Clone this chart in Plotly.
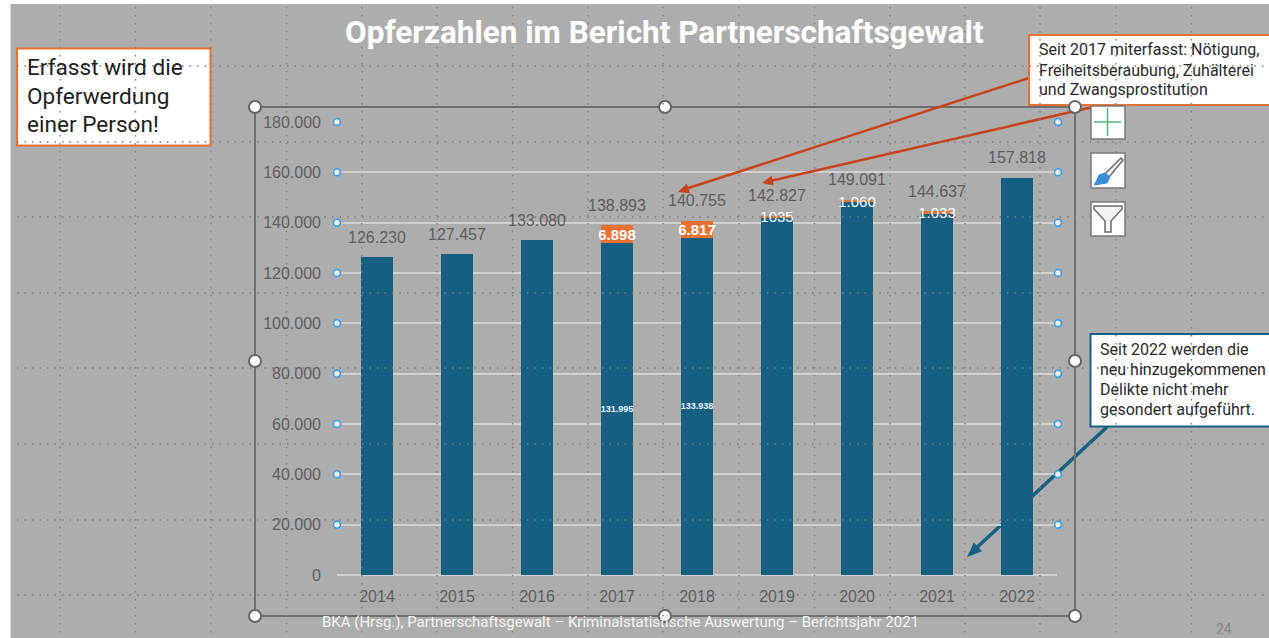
import plotly.graph_objects as go

W, H = 1269, 638

years = ["2014", "2015", "2016", "2017", "2018", "2019", "2020", "2021", "2022"]
base_values = [126230, 127457, 133080, 131995, 133938, 141792, 148031, 143604, 157818]
added_values = [0, 0, 0, 6898, 6817, 1035, 1060, 1033, 0]
total_values = [126230, 127457, 133080, 138893, 140755, 142827, 149091, 144637, 157818]
total_labels = ["126.230", "127.457", "133.080", "138.893", "140.755", "142.827", "149.091", "144.637", "157.818"]
base_labels = ["", "", "", "<b>131.995</b>", "<b>133.938</b>", "", "", "", ""]
added_labels = ["", "", "", "<b>6.898</b>", "<b>6.817</b>", "1035", "1.060", "1.033", ""]
y_ticks = [0, 20000, 40000, 60000, 80000, 100000, 120000, 140000, 160000, 180000]

BLUE = "#156082"
ORANGE = "#E97132"
RED = "#C8431A"
GREY_BG = "#ADADAD"
TXT = "#5E5E5E"
DOT = "#7C7C7C"
SANS = "Liberation Sans"
BODY = "Roboto"

PLOT_L, PLOT_R, PLOT_T, PLOT_B = 337, 1057, 122, 575


def px(x):
    return x / W


def py(y):
    return 1 - y / H


shapes_below = []
shapes_above = []


def rect(x0, y0, x1, y1, fill, line=None, lw=0, layer="above"):
    return dict(type="rect", xref="paper", yref="paper", x0=px(x0), x1=px(x1), y0=py(y0), y1=py(y1),
                fillcolor=fill, line=dict(color=line or fill, width=lw), layer=layer)


def seg(x0, y0, x1, y1, color, lw, dash=None, layer="above"):
    ln = dict(color=color, width=lw)
    if dash:
        ln["dash"] = dash
    return dict(type="line", xref="paper", yref="paper", x0=px(x0), x1=px(x1), y0=py(y0), y1=py(y1),
                line=ln, layer=layer)


def circle(cx, cy, r, fill, line, lw):
    return dict(type="circle", xref="paper", yref="paper", x0=px(cx - r), x1=px(cx + r),
                y0=py(cy + r), y1=py(cy - r), fillcolor=fill, line=dict(color=line, width=lw), layer="above")


def poly(points, fill, line=None, lw=0, layer="above"):
    d = "M" + " L".join(f"{px(a):.5f},{py(b):.5f}" for a, b in points) + " Z"
    return dict(type="path", xref="paper", yref="paper", path=d, fillcolor=fill,
                line=dict(color=line or fill, width=lw), layer=layer)


def arrow_head(x0, y0, x1, y1, color, size=12, half=5, layer="above"):
    dx, dy = x1 - x0, y1 - y0
    n = (dx * dx + dy * dy) ** 0.5
    ux, uy = dx / n, dy / n
    bx, by = x1 - ux * size, y1 - uy * size
    return poly([(x1, y1), (bx - uy * half, by + ux * half), (bx + uy * half, by - ux * half)], color, layer=layer)


# slide background with white sliver at the top and left
shapes_below.append(rect(10.5, 4, W + 2, H + 2, GREY_BG, layer="below"))
# teal leader runs behind the bars
shapes_below.append(seg(1107, 427, 972, 552, BLUE, 3.5, layer="below"))

# chart selection frame
shapes_above.append(dict(type="rect", xref="paper", yref="paper", x0=px(255), x1=px(1075), y0=py(616), y1=py(107),
                         line=dict(color="#6E6E6E", width=2), layer="above"))

# red leaders
shapes_above.append(seg(1029, 78, 684, 189.5, RED, 2.5))
shapes_above.append(arrow_head(1029, 78, 678, 192, RED, 11, 5))
shapes_above.append(seg(1106, 104, 768, 181.5, RED, 2.5))
shapes_above.append(arrow_head(1106, 104, 762, 183, RED, 11, 5))
# teal arrow head in the gap between the last bars
shapes_above.append(arrow_head(1107, 427, 967, 557, BLUE, 15, 6))

# callouts
shapes_above.append(rect(17, 48.5, 210.5, 145.5, "white", ORANGE, 2))
shapes_above.append(rect(1029, 35, W + 5, 105, "white", ORANGE, 2))
shapes_above.append(rect(1090.5, 334, W + 5, 426.5, "white", BLUE, 2))

# selection handles
for cx, cy in [(255, 107), (665, 107), (1075, 107), (255, 361), (1075, 361), (255, 616), (665, 616), (1075, 616)]:
    shapes_above.append(circle(cx, cy, 6, "white", "#666666", 2))
for v in y_ticks[1:]:
    yy = PLOT_B - v * (PLOT_B - PLOT_T) / 180000
    for cx in (PLOT_L, PLOT_R + 1):
        shapes_above.append(circle(cx, yy, 3.5, "#E4F3FF", "#3F9AE6", 1.5))

# PowerPoint drawing grid
for gx in [60, 135.5, 211, 286.5, 361.7, 437, 512.6, 588, 663, 739, 814.5, 890, 965, 1040, 1116, 1191.5]:
    shapes_above.append(seg(gx, 7, gx, H, DOT, 1.4, dash="1.5px,6.5px"))
for gy in [66, 142, 217, 293, 368, 444, 520, 595]:
    shapes_above.append(seg(17, gy, W, gy, DOT, 1.4, dash="1.5px,6px"))

# chart buttons
for y0, y1 in [(106, 139), (153, 188), (202, 236)]:
    shapes_above.append(rect(1091, y0, 1125, y1, "white", "#7A7A7A", 1.5))
shapes_above.append(seg(1094, 122, 1121, 122, "#59B377", 1.5))
shapes_above.append(seg(1107.5, 108, 1107.5, 136, "#59B377", 1.5))
shapes_above.append(poly([(1121, 158), (1123, 160), (1109, 177), (1105, 174)], "#F4F4F4", "#6A6A6A", 1.5))
shapes_above.append(poly([(1105, 173), (1110, 177), (1107, 183), (1094, 185), (1097, 180), (1099, 175)], "#3F8FD6", "#3F8FD6", 1))
shapes_above.append(poly([(1094, 206), (1122, 206), (1122, 209), (1111, 221), (1111, 232), (1105, 232), (1105, 221), (1094, 209)],
                         "#F4F4F4", "#6A6A6A", 1.5))

annotations = []


def label(x, y, text, size, color, family=BODY, align="left", bold=False):
    t = f"<b>{text}</b>" if bold else text
    annotations.append(dict(xref="paper", yref="paper", x=px(x), y=py(y), text=t, showarrow=False,
                            xanchor=align, yanchor="middle", font=dict(size=size, color=color, family=family)))


# totals sit a fixed distance above each stack (x is the category index)
for i, (tot, lab) in enumerate(zip(total_values, total_labels)):
    annotations.append(dict(x=i, y=tot, xref="x", yref="y", text=lab, showarrow=False, yshift=20,
                            xanchor="center", yanchor="middle", font=dict(size=16, color=TXT, family=SANS)))

label(664, 33, "Opferzahlen im Bericht Partnerschaftsgewalt", 31.5, "white", align="center", bold=True)
for yy, t in zip([67, 96, 125], ["Erfasst wird die", "Opferwerdung", "einer Person!"]):
    label(25, yy, t, 22.6, "#1E1E1E")
for yy, t in zip([49, 70, 90], ["Seit 2017 miterfasst: Nötigung,", "Freiheitsberaubung, Zuhälterei", "und Zwangsprostitution"]):
    label(1037, yy, t, 16, "#2A2A2A")
for yy, t in zip([349, 369, 389, 409], ["Seit 2022 werden die", "neu hinzugekommenen", "Delikte nicht mehr", "gesondert aufgeführt."]):
    label(1098, yy, t, 16, "#2A2A2A")
label(620, 622, "BKA (Hrsg.), Partnerschaftsgewalt – Kriminalstatistische Auswertung – Berichtsjahr 2021", 15, "#F4F4F4", align="center")
label(1224, 629, "24", 14, "#858585", align="center")

fig = go.Figure()
fig.add_bar(x=years, y=base_values, marker=dict(color=BLUE, line=dict(width=0)), text=base_labels,
            textposition="inside", insidetextanchor="middle", constraintext="none", textangle=0,
            textfont=dict(size=9, color="#E6F4FF", family=SANS), hoverinfo="skip", name="Opfer")
fig.add_bar(x=years, y=added_values, marker=dict(color=ORANGE, line=dict(width=0)), text=added_labels,
            textposition="inside", insidetextanchor="middle", constraintext="none", textangle=0,
            textfont=dict(size=15, color="white", family=SANS), hoverinfo="skip", name="Neu erfasst")

fig.update_layout(
    width=W, height=H, autosize=False,
    margin=dict(l=0, r=0, t=0, b=0, pad=0),
    paper_bgcolor="white", plot_bgcolor="rgba(0,0,0,0)",
    barmode="stack", bargap=0.6, showlegend=False, separators=",.",
    shapes=shapes_below + shapes_above, annotations=annotations,
    xaxis=dict(domain=[px(PLOT_L), px(PLOT_R)], type="category", range=[-0.5, 8.5], showgrid=False, zeroline=False,
               showline=False, ticks="", ticklabelstandoff=10, automargin=False,
               tickfont=dict(size=16, color=TXT, family=SANS)),
    yaxis=dict(domain=[py(PLOT_B), py(PLOT_T)], range=[0, 180000], tickvals=y_ticks, tickformat=",d",
               showgrid=True, gridcolor="#D0D0D0", gridwidth=2, zeroline=True, zerolinecolor="#D0D0D0", zerolinewidth=2,
               showline=False, ticks="", ticklabelstandoff=15, automargin=False,
               tickfont=dict(size=16, color=TXT, family=SANS)),
)

fig.write_html("out.html", config=dict(displayModeBar=False),
               post_script="document.body.style.margin='0';document.body.style.overflow='hidden';")
